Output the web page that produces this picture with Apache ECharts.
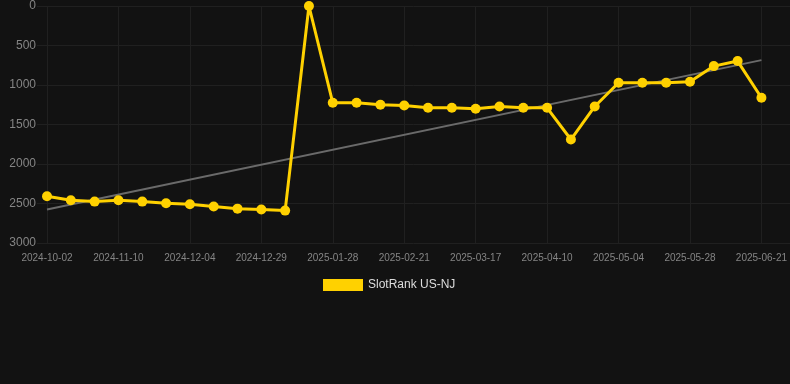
<!DOCTYPE html>
<html>
<head>
<meta charset="utf-8">
<script src="https://cdn.jsdelivr.net/npm/echarts@6/dist/echarts.min.js"></script>
<style>
  html, body { margin: 0; padding: 0; background: #121212; }
  #chart { width: 790px; height: 384px; }
</style>
</head>
<body>
<div id="chart"></div>
<script>
// one point per 8 days or so; every 3rd one carries a label
var DATES = [
  '2024-10-02', '2024-10-15', '2024-10-28', '2024-11-10', '2024-11-18', '2024-11-26',
  '2024-12-04', '2024-12-12', '2024-12-20', '2024-12-29', '2025-01-08', '2025-01-18',
  '2025-01-28', '2025-02-05', '2025-02-13', '2025-02-21', '2025-03-01', '2025-03-09',
  '2025-03-17', '2025-03-25', '2025-04-02', '2025-04-10', '2025-04-18', '2025-04-26',
  '2025-05-04', '2025-05-12', '2025-05-20', '2025-05-28', '2025-06-05', '2025-06-13',
  '2025-06-21'
];
var RANK = [
  2408, 2459, 2476, 2459, 2476, 2497, 2510, 2539, 2565, 2577, 2590, 0,
  1225, 1225, 1251, 1259, 1289, 1289, 1301, 1272, 1289, 1289, 1690, 1272,
  972, 972, 972, 959, 761, 697, 1162
];
var TREND_ENDS = [2577, 685];
var Y_TICKS = [0, 500, 1000, 1500, 2000, 2500, 3000];

var trend = DATES.map(function (d, i) {
  if (i === 0) return TREND_ENDS[0];
  if (i === DATES.length - 1) return TREND_ENDS[1];
  return null;
});

var gridColor = '#202020';
var labelColor = '#858585';
var font = 'Liberation Sans, Arial, sans-serif';

var chart = echarts.init(document.getElementById('chart'));
chart.setOption({
  backgroundColor: '#121212',
  animation: false,
  grid: [
    { left: 47, right: 28, top: 6, bottom: 141, containLabel: false },
    { left: 37, right: 0, top: 6, bottom: 141, containLabel: false }
  ],
  legend: {
    data: ['SlotRank US-NJ'],
    left: 318, top: 274,
    icon: 'rect', itemWidth: 40, itemHeight: 12, itemGap: 10,
    textStyle: { color: '#dddddd', fontSize: 12, fontFamily: font }
  },
  xAxis: [
    {
      type: 'category', gridIndex: 0, data: DATES, boundaryGap: false,
      axisLine: { show: false },
      axisTick: { show: true, interval: 2, length: 6, lineStyle: { color: gridColor } },
      axisLabel: { interval: 2, color: labelColor, fontSize: 10, margin: 10, fontFamily: font },
      splitLine: { show: true, interval: 2, lineStyle: { color: gridColor, width: 1 } }
    },
    {
      type: 'category', gridIndex: 1, data: DATES, show: false
    }
  ],
  yAxis: [
    {
      type: 'value', gridIndex: 0, inverse: true, min: Y_TICKS[0], max: Y_TICKS[Y_TICKS.length - 1], interval: 500,
      axisLine: { show: false }, axisTick: { show: false },
      axisLabel: {
        color: labelColor, fontSize: 12, margin: 11, fontFamily: font,
        formatter: function (v) { return String(v); }
      },
      splitLine: { show: false }
    },
    {
      type: 'value', gridIndex: 1, inverse: true, min: Y_TICKS[0], max: Y_TICKS[Y_TICKS.length - 1], interval: 500,
      axisLine: { show: false }, axisTick: { show: false }, axisLabel: { show: false },
      splitLine: { show: true, lineStyle: { color: gridColor, width: 1 } }
    }
  ],
  series: [
    {
      name: 'trend', type: 'line', xAxisIndex: 0, yAxisIndex: 0,
      data: trend, connectNulls: true, symbol: 'none', z: 2,
      lineStyle: { color: '#6a6a6a', width: 2 }
    },
    {
      name: 'SlotRank US-NJ', type: 'line', xAxisIndex: 0, yAxisIndex: 0,
      data: RANK, symbol: 'circle', symbolSize: 10, z: 3,
      itemStyle: { color: '#FFD100' },
      lineStyle: { color: '#FFD100', width: 3 }
    }
  ]
});
</script>
</body>
</html>
